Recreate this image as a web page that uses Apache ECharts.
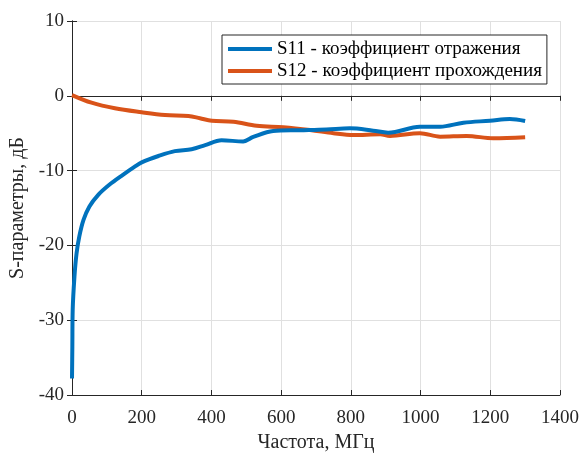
<!DOCTYPE html>
<html>
<head>
<meta charset="utf-8">
<script src="https://cdn.jsdelivr.net/npm/echarts@6/dist/echarts.min.js"></script>
<style>
html,body{margin:0;padding:0;background:#fff;}
#chart{width:584px;height:454px;}
</style>
</head>
<body>
<div id="chart"></div>
<script>
// Frequency (MHz) and S11 (dB)
const s11Freq = [0, 1, 2, 7, 13, 21, 33, 50, 74, 107, 145, 179, 200, 248, 295, 343, 382, 429, 491, 520, 577, 654, 730, 797, 864, 907, 998, 1056, 1123, 1199, 1256, 1300];
const s11Vals = [-37.8, -33.5, -28.6, -24.2, -21.1, -18.8, -16.6, -14.8, -13.3, -11.9, -10.6, -9.5, -8.9, -8.05, -7.4, -7.15, -6.6, -5.95, -6.1, -5.5, -4.7, -4.6, -4.5, -4.35, -4.66, -4.93, -4.15, -4.13, -3.6, -3.33, -3.1, -3.37];
// Frequency (MHz) and S12 (dB)
const s12Freq = [0, 56, 123, 200, 267, 334, 367, 401, 463, 530, 606, 683, 750, 807, 884, 912, 998, 1056, 1132, 1209, 1300];
const s12Vals = [0.1, -0.92, -1.67, -2.2, -2.57, -2.7, -3.0, -3.33, -3.46, -4.0, -4.2, -4.57, -5.0, -5.24, -5.15, -5.37, -5.0, -5.46, -5.37, -5.68, -5.55];

const seriesNames = ['S11 - коэффициент отражения', 'S12 - коэффициент прохождения'];
const xTicks = {min: 0, max: 1400, interval: 200};
const yTicks = {min: -40, max: 10, interval: 10};
const xTitle = 'Частота, МГц';
const yTitle = 'S-параметры, дБ';

const pair = (xs, ys) => xs.map((x, i) => [x, ys[i]]);
const FONT = 'Liberation Serif';
const AX = '#262626';
const GRID = '#e0e0e0';

const chart = echarts.init(document.getElementById('chart'), null, {renderer: 'canvas'});
const boxAxis = {
  show: true,
  axisLine: {show: true, lineStyle: {color: AX, width: 1}},
  axisTick: {show: true, inside: true, length: 5, lineStyle: {color: AX}},
  axisLabel: {show: false},
  splitLine: {show: false}
};
chart.setOption({
  backgroundColor: '#ffffff',
  animation: false,
  grid: {left: 72, right: 24, top: 21, bottom: 59, containLabel: false, outerBoundsMode: 'none'},
  legend: {
    left: 222, top: 35,
    orient: 'vertical',
    data: seriesNames,
    icon: 'rect',
    backgroundColor: '#ffffff',
    borderColor: AX, borderWidth: 1, borderRadius: 0,
    padding: [4, 5, 3, 6],
    itemWidth: 44, itemHeight: 4, itemGap: 2,
    textStyle: {fontFamily: FONT, fontSize: 19, color: '#000', lineHeight: 20}
  },
  xAxis: [{
    type: 'value', min: xTicks.min, max: xTicks.max, interval: xTicks.interval,
    name: xTitle, nameLocation: 'middle', nameGap: 38,
    nameTextStyle: {fontFamily: FONT, fontSize: 20, color: AX},
    axisLine: {show: true, onZero: false, lineStyle: {color: AX, width: 1}},
    axisTick: {show: true, inside: true, length: 5, lineStyle: {color: AX}},
    axisLabel: {fontFamily: FONT, fontSize: 19, color: AX, margin: 14, formatter: v => String(v)},
    splitLine: {show: true, lineStyle: {color: GRID, width: 1}}
  }, Object.assign({type: 'value', position: 'top', min: xTicks.min, max: xTicks.max, interval: xTicks.interval}, boxAxis)],
  yAxis: [{
    type: 'value', min: yTicks.min, max: yTicks.max, interval: yTicks.interval,
    name: yTitle, nameLocation: 'middle', nameGap: 42, nameRotate: 90,
    nameTextStyle: {fontFamily: FONT, fontSize: 20, color: AX},
    axisLine: {show: true, onZero: false, lineStyle: {color: AX, width: 1}},
    axisTick: {show: true, inside: true, length: 5, lineStyle: {color: AX}},
    axisLabel: {fontFamily: FONT, fontSize: 19, color: AX, margin: 8, padding: [4, 0, 0, 0], formatter: v => String(v)},
    splitLine: {show: true, lineStyle: {color: GRID, width: 1}}
  }, Object.assign({type: 'value', position: 'right', min: yTicks.min, max: yTicks.max, interval: yTicks.interval}, boxAxis)],
  series: [{
    name: seriesNames[0], type: 'line', data: pair(s11Freq, s11Vals),
    showSymbol: false, symbol: 'none', smooth: 0.35,
    lineStyle: {color: '#0072BD', width: 4}, itemStyle: {color: '#0072BD'}, z: 3
  }, {
    name: seriesNames[1], type: 'line', data: pair(s12Freq, s12Vals),
    showSymbol: false, symbol: 'none', smooth: 0.35,
    lineStyle: {color: '#D95319', width: 4}, itemStyle: {color: '#D95319'}, z: 2
  }]
});
</script>
</body>
</html>
